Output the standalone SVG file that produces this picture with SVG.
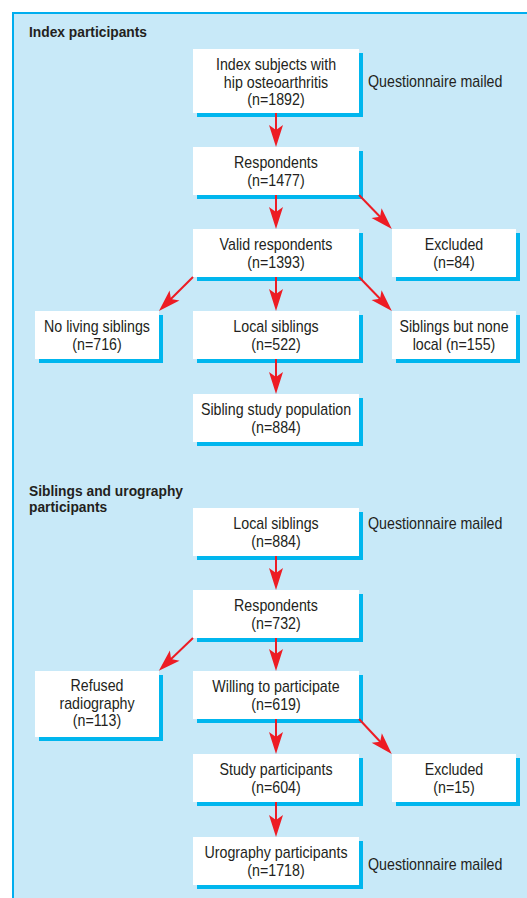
<svg xmlns="http://www.w3.org/2000/svg" width="527" height="898" viewBox="0 0 527 898">
<style>
.panel{fill:#c8e9f8}
.edge{stroke:#00aeef;stroke-width:2;fill:none}
.sh{fill:#00b6ee}
.box{fill:#ffffff}
.t{font-family:"Liberation Sans",Arial,sans-serif;font-size:16px;fill:#231f20;text-anchor:middle}
.l{font-family:"Liberation Sans",Arial,sans-serif;font-size:16px;fill:#231f20;text-anchor:start}
.h{font-family:"Liberation Sans",Arial,sans-serif;font-size:15px;font-weight:bold;fill:#231f20;text-anchor:start}
.c{stroke:#ed1c24;stroke-width:2;fill:none;marker-end:url(#ah)}
</style>
<defs>
<marker id="ah" markerUnits="userSpaceOnUse" orient="auto" refX="0" refY="0" markerWidth="30" markerHeight="30" overflow="visible">
<path d="M8,0 L-14,-7 L-9,0 L-14,7 Z" fill="#ed1c24"/>
</marker>
</defs>
<rect class="panel" x="13" y="13" width="520" height="890"/>
<path class="edge" d="M13,898 V13 H527"/>

<g id="heading1"><text class="h" transform="translate(29 0) scale(.92 1)"><tspan x="0" y="37">Index participants</tspan></text></g>
<g id="heading2"><text class="h" transform="translate(29 0) scale(.92 1)"><tspan x="0" y="496">Siblings and urography</tspan><tspan x="0" y="512.5">participants</tspan></text></g>

<g id="n1"><rect class="sh" x="197" y="53" width="166" height="64"/><rect class="box" x="193" y="49" width="166" height="64"/>
<text class="t" transform="translate(276 0) scale(.89 1)"><tspan x="0" y="70.5">Index subjects with</tspan><tspan x="0" y="88">hip osteoarthritis</tspan><tspan x="0" y="105.5">(n=1892)</tspan></text></g>
<g id="q1"><text class="l" transform="translate(368 0) scale(.89 1)"><tspan x="0" y="87.5">Questionnaire mailed</tspan></text></g>

<g id="n2"><rect class="sh" x="197" y="151" width="166" height="48"/><rect class="box" x="193" y="147" width="166" height="48"/>
<text class="t" transform="translate(276 0) scale(.89 1)"><tspan x="0" y="168.5">Respondents</tspan><tspan x="0" y="186">(n=1477)</tspan></text></g>

<g id="n3"><rect class="sh" x="197" y="233" width="166" height="48"/><rect class="box" x="193" y="229" width="166" height="48"/>
<text class="t" transform="translate(276 0) scale(.89 1)"><tspan x="0" y="250.5">Valid respondents</tspan><tspan x="0" y="268">(n=1393)</tspan></text></g>

<g id="n4"><rect class="sh" x="396" y="233" width="124" height="48"/><rect class="box" x="392" y="229" width="124" height="48"/>
<text class="t" transform="translate(454 0) scale(.89 1)"><tspan x="0" y="250.5">Excluded</tspan><tspan x="0" y="268">(n=84)</tspan></text></g>

<g id="n5"><rect class="sh" x="39" y="315" width="124" height="48"/><rect class="box" x="35" y="311" width="124" height="48"/>
<text class="t" transform="translate(97 0) scale(.89 1)"><tspan x="0" y="332.5">No living siblings</tspan><tspan x="0" y="350">(n=716)</tspan></text></g>

<g id="n6"><rect class="sh" x="197" y="315" width="166" height="48"/><rect class="box" x="193" y="311" width="166" height="48"/>
<text class="t" transform="translate(276 0) scale(.89 1)"><tspan x="0" y="332.5">Local siblings</tspan><tspan x="0" y="350">(n=522)</tspan></text></g>

<g id="n7"><rect class="sh" x="396" y="315" width="124" height="48"/><rect class="box" x="392" y="311" width="124" height="48"/>
<text class="t" transform="translate(454 0) scale(.89 1)"><tspan x="0" y="332.5">Siblings but none</tspan><tspan x="0" y="350">local (n=155)</tspan></text></g>

<g id="n8"><rect class="sh" x="197" y="398" width="166" height="48"/><rect class="box" x="193" y="394" width="166" height="48"/>
<text class="t" transform="translate(276 0) scale(.89 1)"><tspan x="0" y="415.5">Sibling study population</tspan><tspan x="0" y="433">(n=884)</tspan></text></g>

<g id="m1"><rect class="sh" x="197" y="512" width="166" height="48"/><rect class="box" x="193" y="508" width="166" height="48"/>
<text class="t" transform="translate(276 0) scale(.89 1)"><tspan x="0" y="529.5">Local siblings</tspan><tspan x="0" y="547">(n=884)</tspan></text></g>
<g id="q2"><text class="l" transform="translate(368 0) scale(.89 1)"><tspan x="0" y="529.5">Questionnaire mailed</tspan></text></g>

<g id="m2"><rect class="sh" x="197" y="594" width="166" height="48"/><rect class="box" x="193" y="590" width="166" height="48"/>
<text class="t" transform="translate(276 0) scale(.89 1)"><tspan x="0" y="611.5">Respondents</tspan><tspan x="0" y="629">(n=732)</tspan></text></g>

<g id="m3"><rect class="sh" x="39" y="675" width="124" height="66"/><rect class="box" x="35" y="671" width="124" height="66"/>
<text class="t" transform="translate(97 0) scale(.89 1)"><tspan x="0" y="691.5">Refused</tspan><tspan x="0" y="709">radiography</tspan><tspan x="0" y="726.5">(n=113)</tspan></text></g>

<g id="m4"><rect class="sh" x="197" y="675" width="166" height="48"/><rect class="box" x="193" y="671" width="166" height="48"/>
<text class="t" transform="translate(276 0) scale(.89 1)"><tspan x="0" y="692.5">Willing to participate</tspan><tspan x="0" y="710">(n=619)</tspan></text></g>

<g id="m5"><rect class="sh" x="197" y="758" width="166" height="48"/><rect class="box" x="193" y="754" width="166" height="48"/>
<text class="t" transform="translate(276 0) scale(.89 1)"><tspan x="0" y="775.5">Study participants</tspan><tspan x="0" y="793">(n=604)</tspan></text></g>

<g id="m6"><rect class="sh" x="396" y="758" width="124" height="48"/><rect class="box" x="392" y="754" width="124" height="48"/>
<text class="t" transform="translate(454 0) scale(.89 1)"><tspan x="0" y="775.5">Excluded</tspan><tspan x="0" y="793">(n=15)</tspan></text></g>

<g id="m7"><rect class="sh" x="197" y="841" width="166" height="48"/><rect class="box" x="193" y="837" width="166" height="48"/>
<text class="t" transform="translate(276 0) scale(.89 1)"><tspan x="0" y="858.5">Urography participants</tspan><tspan x="0" y="876">(n=1718)</tspan></text></g>
<g id="q3"><text class="l" transform="translate(368 0) scale(.89 1)"><tspan x="0" y="870.5">Questionnaire mailed</tspan></text></g>

<g id="connectors">
<path class="c" d="M276,113 L276,139"/>
<path class="c" d="M276,195 L276,221"/>
<path class="c" d="M359,195 L386.3,223.2"/>
<path class="c" d="M276,277 L276,303"/>
<path class="c" d="M193,277 L164.6,305.3"/>
<path class="c" d="M359,277 L386.3,305.2"/>
<path class="c" d="M276,359 L276,386"/>
<path class="c" d="M276,556 L276,582"/>
<path class="c" d="M276,638 L276,663"/>
<path class="c" d="M193,638 L164.6,665.3"/>
<path class="c" d="M276,719 L276,746"/>
<path class="c" d="M359,719 L386.3,748.2"/>
<path class="c" d="M276,802 L276,829"/>
</g>
</svg>
